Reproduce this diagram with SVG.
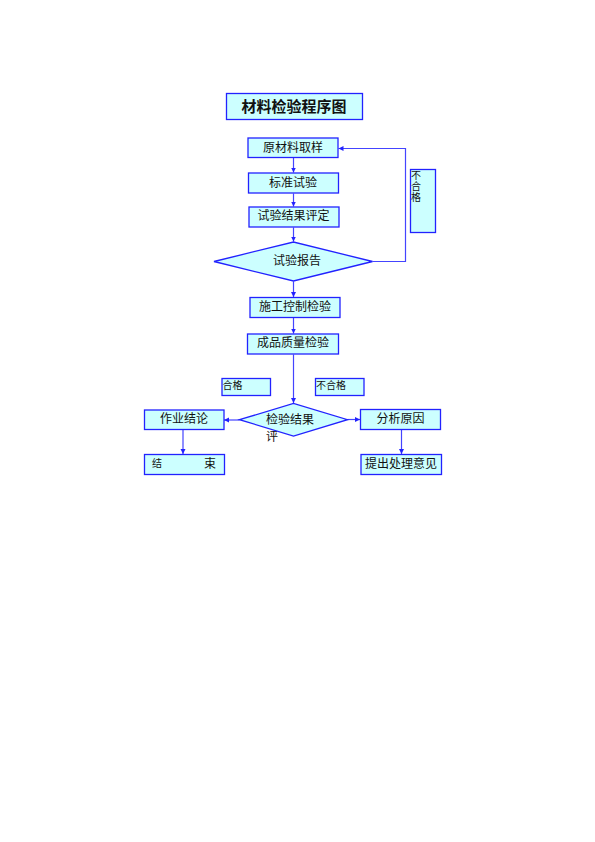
<svg xmlns="http://www.w3.org/2000/svg" width="595" height="842" viewBox="0 0 595 842">
<style>
.box{fill:#CCFFFF;stroke:#2222FF;stroke-width:1.3}
.ln{fill:none;stroke:#4444FF;stroke-width:1.2}
.t{font-family:"Liberation Serif","Noto Sans CJK SC",serif;font-size:12px;fill:#111;text-anchor:middle;dominant-baseline:central}
.s{font-family:"Liberation Serif","Noto Sans CJK SC",serif;font-size:10px;fill:#111}
.title{font-family:"Liberation Sans","Noto Sans CJK SC",sans-serif;font-size:15px;font-weight:bold;fill:#111;text-anchor:middle;dominant-baseline:central}
</style>
<defs>
<marker id="a" markerWidth="6" markerHeight="6" refX="5" refY="3" orient="auto" markerUnits="userSpaceOnUse">
<path d="M0,0.5 L5,3 L0,5.5 Z" fill="#2222FF"/>
</marker>
</defs>
<rect width="595" height="842" fill="#fff"/>
<g id="title"><rect class="box" x="226.5" y="93.5" width="136" height="26"/><text class="title" x="294" y="106">材料检验程序图</text></g>
<g id="connectors">
<path class="ln" d="M293.5 157.5 V172.5" marker-end="url(#a)"/>
<path class="ln" d="M293.5 193.5 V206.5" marker-end="url(#a)"/>
<path class="ln" d="M293.5 227.5 V241.5" marker-end="url(#a)"/>
<path class="ln" d="M372.5 261.5 H405.5 V148.5 H338.5" marker-end="url(#a)"/>
<path class="ln" d="M293.5 281.5 V297" marker-end="url(#a)"/>
<path class="ln" d="M293.5 317.5 V333.5" marker-end="url(#a)"/>
<path class="ln" d="M293.5 354.5 V403" marker-end="url(#a)"/>
<path class="ln" d="M239.5 420 H224" marker-end="url(#a)"/>
<path class="ln" d="M347.5 419.5 H360" marker-end="url(#a)"/>
<path class="ln" d="M183 429.5 V454" marker-end="url(#a)"/>
<path class="ln" d="M401.5 429.5 V454" marker-end="url(#a)"/>
</g>
<g id="n1"><rect class="box" x="248" y="138" width="90" height="19.5"/><text class="t" x="293" y="147.5">原材料取样</text></g>
<g id="n2"><rect class="box" x="248.5" y="173" width="90" height="20"/><text class="t" x="293" y="182.5">标准试验</text></g>
<g id="n3"><rect class="box" x="249" y="207" width="90" height="20"/><text class="t" x="293.5" y="216">试验结果评定</text></g>
<g id="n4"><polygon class="box" points="214,261.5 293.5,242 372.5,261.5 293.5,281"/><text class="t" x="297" y="260.5">试验报告</text></g>
<g id="n5"><rect class="box" x="410.5" y="169.5" width="25" height="63"/><text class="s" x="411" y="179">不</text><text class="s" x="411" y="190">合</text><text class="s" x="411" y="201">格</text></g>
<g id="n6"><rect class="box" x="250" y="297.5" width="90" height="20"/><text class="t" x="295" y="306.5">施工控制检验</text></g>
<g id="n7"><rect class="box" x="247.5" y="334" width="91" height="20"/><text class="t" x="293" y="343">成品质量检验</text></g>
<g id="n8"><rect class="box" x="222" y="378.5" width="48.5" height="17"/><text class="s" x="222.5" y="389">合格</text></g>
<g id="n9"><rect class="box" x="315.5" y="378.5" width="48.5" height="17"/><text class="s" x="316" y="389">不合格</text></g>
<g id="n10"><polygon class="box" points="239.5,419.7 293.5,403.5 347.5,419.7 293.5,436"/><text class="t" x="290" y="419.5">检验结果</text><text class="s" x="266" y="441" style="font-size:12px">评</text></g>
<g id="n11"><rect class="box" x="144.5" y="410" width="79.5" height="19.5"/><text class="t" x="184" y="419">作业结论</text></g>
<g id="n12"><rect class="box" x="360.5" y="409.5" width="80" height="20"/><text class="t" x="400.5" y="418.5">分析原因</text></g>
<g id="n13"><rect class="box" x="144.5" y="454.5" width="80" height="20"/><text class="s" x="152" y="467">结</text><text class="t" x="210" y="463.5">束</text></g>
<g id="n14"><rect class="box" x="361" y="454.5" width="80.5" height="20"/><text class="t" x="401" y="463.5">提出处理意见</text></g>
</svg>
